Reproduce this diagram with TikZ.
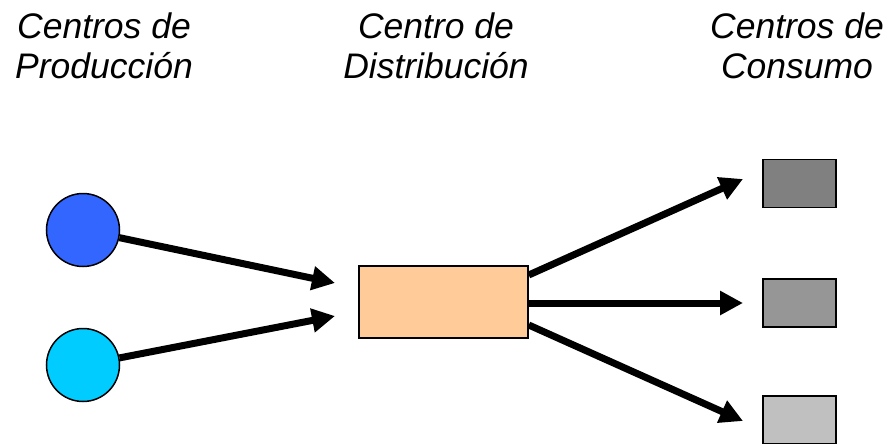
\documentclass[tikz,border=0pt]{standalone}
\usepackage{fontspec}
\setmainfont{Liberation Sans}
\usetikzlibrary{arrows.meta,calc}
\definecolor{prodA}{HTML}{3366FF}
\definecolor{prodB}{HTML}{00CCFF}
\definecolor{distc}{HTML}{FFCC99}
\definecolor{consA}{HTML}{808080}
\definecolor{consB}{HTML}{969696}
\definecolor{consC}{HTML}{C0C0C0}
\tikzset{
  lbl/.style={anchor=base,inner sep=0pt,font=\fontsize{35.5}{40}\selectfont\itshape},
  prod/.style={circle,draw=black,line width=1.5pt,minimum size=73pt,inner sep=0pt},
  dist/.style={rectangle,draw=black,line width=1.5pt,fill=distc,minimum width=169pt,minimum height=72pt,inner sep=0pt},
  cons/.style={rectangle,draw=black,line width=1.5pt,minimum width=73pt,minimum height=48pt,inner sep=0pt},
  flow/.style={line width=7pt,-{Triangle[length=23pt,width=23pt]}}
}
\begin{document}
\begin{tikzpicture}[x=1pt,y=-1pt]
\useasboundingbox (0,0) rectangle (891,444);
% labels
\node[lbl] (l1a) at (104,38) {Centros de};
\node[lbl] (l1b) at (104,78) {Producción};
\node[lbl] (l2a) at (436,38) {Centro de};
\node[lbl] (l2b) at (436,78) {Distribución};
\node[lbl] (l3a) at (797,38) {Centros de};
\node[lbl] (l3b) at (797,78) {Consumo};
% nodes
\node[prod,fill=prodA] (p1) at (83,230) {};
\node[prod,fill=prodB] (p2) at (83,365) {};
\node[dist] (d) at (443.5,302) {};
\node[cons,fill=consA] (c1) at (799.5,183.5) {};
\node[cons,fill=consB] (c2) at (799.5,303) {};
\node[cons,fill=consC] (c3) at (799.5,420) {};
% arrow tips
\coordinate (tp1) at (335,283);
\coordinate (tp2) at (335,316);
\coordinate (tc1) at (743,179);
\coordinate (tc2) at (743,303);
\coordinate (tc3) at (743,421);
\coordinate (s1) at ($(d.east)+(0,-27)$);
\coordinate (s2) at ($(d.east)+(0,1)$);
\coordinate (s3) at ($(d.east)+(0,23)$);
% connectors
\draw[flow] (p1) -- (tp1);
\draw[flow] (p2) -- (tp2);
\draw[flow] (s1) -- (tc1);
\draw[flow] (s2) -- (tc2);
\draw[flow] (s3) -- (tc3);
\end{tikzpicture}
\end{document}
